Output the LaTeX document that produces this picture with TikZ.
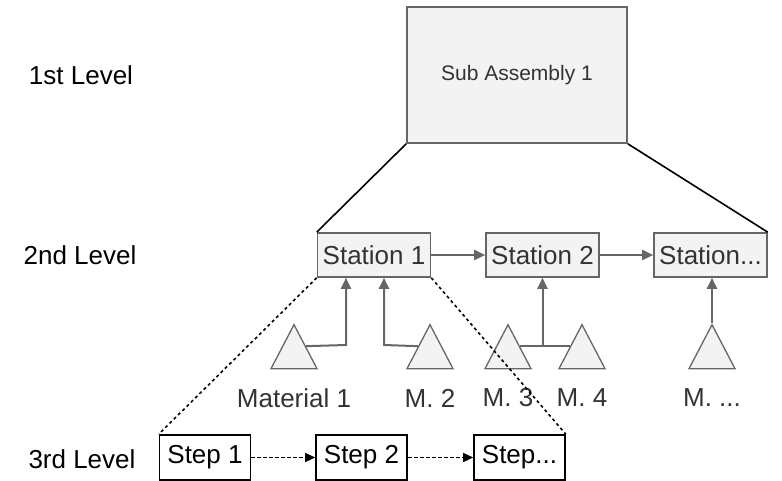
\documentclass[tikz,border=0pt]{standalone}
\usepackage{fontspec}
\setmainfont{Liberation Sans}
\usetikzlibrary{arrows.meta,shapes.geometric}
\definecolor{boxgray}{HTML}{F3F3F3}
\definecolor{linegray}{HTML}{666666}
\definecolor{textgray}{HTML}{333333}
\begin{document}
\begin{tikzpicture}[x=1pt,y=-1pt,
	every node/.style={font=\fontsize{26}{30}\selectfont},
	station/.style={draw=linegray,fill=boxgray,line width=1.6pt,minimum width=113pt,minimum height=44pt,inner sep=0pt,text=textgray},
	stepbox/.style={draw=black,fill=white,line width=1.6pt,minimum width=91pt,minimum height=45pt,inner sep=0pt},
	material/.style={draw=linegray,fill=boxgray,line width=1.3pt,isosceles triangle,isosceles triangle stretches,shape border rotate=90,minimum width=46pt,minimum height=44pt,inner sep=0pt,anchor=apex},
	feed/.style={draw=linegray,line width=2pt,-{Triangle[length=11pt,width=10pt]}},
	flow/.style={draw=black,line width=1.3pt,dash pattern=on 4pt off 2pt,-{Triangle[length=10pt,width=9pt]}}]
	\useasboundingbox (0,0) rectangle (782,481);
	% levels
	\node (lvl1) at (81,75) {1st Level};
	\node (lvl2) at (80,255) {2nd Level};
	\node (lvl3) at (82,459) {3rd Level};
	% 1st level
	\node[station,minimum width=220pt,minimum height=136pt,font=\fontsize{21}{25}\selectfont] (sub) at (517,75) {Sub Assembly 1};
	% 2nd level
	\node[station] (st1) at (374,255) {Station 1};
	\node[station] (st2) at (542.5,255) {Station 2};
	\node[station] (st3) at (710.5,255) {Station...};
	\draw[black,line width=1.6pt] (sub.south west) -- (st1.north west);
	\draw[black,line width=1.6pt] (sub.south east) -- (st3.north east);
	\draw[feed] (st1) -- (st2);
	\draw[feed] (st2) -- (st3);
	% materials
	\node[material] (m1) at (294,323) {};
	\node[material] (m2) at (430,323) {};
	\node[material] (m3) at (508,323) {};
	\node[material] (m4) at (582,323) {};
	\node[material] (m5) at (712,323) {};
	\node[text=textgray] (m1l) at (294,398) {Material 1};
	\node[text=textgray] (m2l) at (430,398) {M. 2};
	\node[text=textgray] (m3l) at (508,398) {M. 3};
	\node[text=textgray] (m4l) at (582,398) {M. 4};
	\node[text=textgray] (m5l) at (712,398) {M. ...};
	\coordinate (j1) at (346,345);
	\coordinate (j2) at (384,345);
	\coordinate (j3) at (542.5,345);
	\draw[feed] (m1.right side) -- (j1) -- (j1 |- st1.south);
	\draw[feed] (m2.left side) -- (j2) -- (j2 |- st1.south);
	\draw[draw=linegray,line width=2pt] (m3.right side) -- (m4.left side);
	\draw[feed] (j3) -- (st2.south);
	\draw[feed] (m5.apex) -- (m5.apex |- st3.south);
	% 3rd level
	\node[stepbox] (s1) at (205,457.5) {Step 1};
	\node[stepbox] (s2) at (361.5,457.5) {Step 2};
	\node[stepbox] (s3) at (519.5,457.5) {Step...};
	\draw[flow] (s1) -- (s2);
	\draw[flow] (s2) -- (s3);
	\draw[black,line width=1.6pt,dash pattern=on 3pt off 3pt] (st1.south west) -- (s1.north west);
	\draw[black,line width=1.6pt,dash pattern=on 3pt off 3pt] (st1.south east) -- (s3.north east);
\end{tikzpicture}
\end{document}
